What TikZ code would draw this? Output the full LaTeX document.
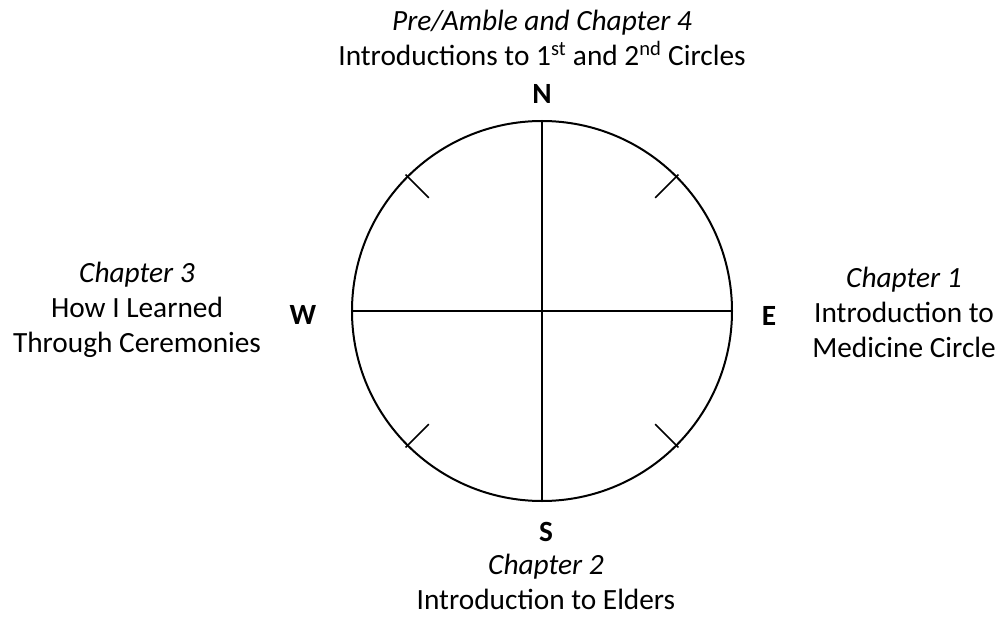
\documentclass[tikz,border=0pt]{standalone}
\usepackage{fontspec}
\setmainfont{Carlito}
\usetikzlibrary{positioning}

\begin{document}
\begin{tikzpicture}[x=0.75pt, y=0.75pt,
  rim/.style={line width=1.5pt},
  spoke/.style={line width=1.25pt},
  compass/.style={font=\fontsize{22}{26.3}\selectfont\bfseries, inner sep=0pt},
  chapter/.style={align=center, font=\fontsize{22}{26.3}\selectfont, inner sep=0pt}
]
  \useasboundingbox (-542,-306) rectangle (460,311);

  % the wheel
  \node[circle, draw, rim, minimum size=285pt, inner sep=0pt, outer sep=0pt] (wheel) at (0,0) {};
  \draw[spoke] (wheel.north) -- (wheel.south);
  \draw[spoke] (wheel.west) -- (wheel.east);
  \foreach \ang in {45,135,225,315}
    \draw[spoke] (\ang:193) -- (\ang:160);

  % directions
  \node[compass] (n) at (0,217) {N};
  \node[compass] (e) at (227,-5) {E};
  \node[compass] (s) at (4,-221) {S};
  \node[compass] (w) at (-239,-4) {W};

  % chapters
  \node[chapter] (top) at (0,273) {\textit{Pre/Amble and Chapter 4}\\Introductions to 1\textsuperscript{st} and 2\textsuperscript{nd} Circles};
  \node[chapter] (right) at (362,-1) {\textit{Chapter 1}\\Introduction to\\Medicine Circle};
  \node[chapter] (bottom) at (4,-271) {\textit{Chapter 2}\\Introduction to Elders};
  \node[chapter] (left) at (-405,1) {\textit{Chapter 3}\\How I Learned\\Through Ceremonies};
\end{tikzpicture}
\end{document}
